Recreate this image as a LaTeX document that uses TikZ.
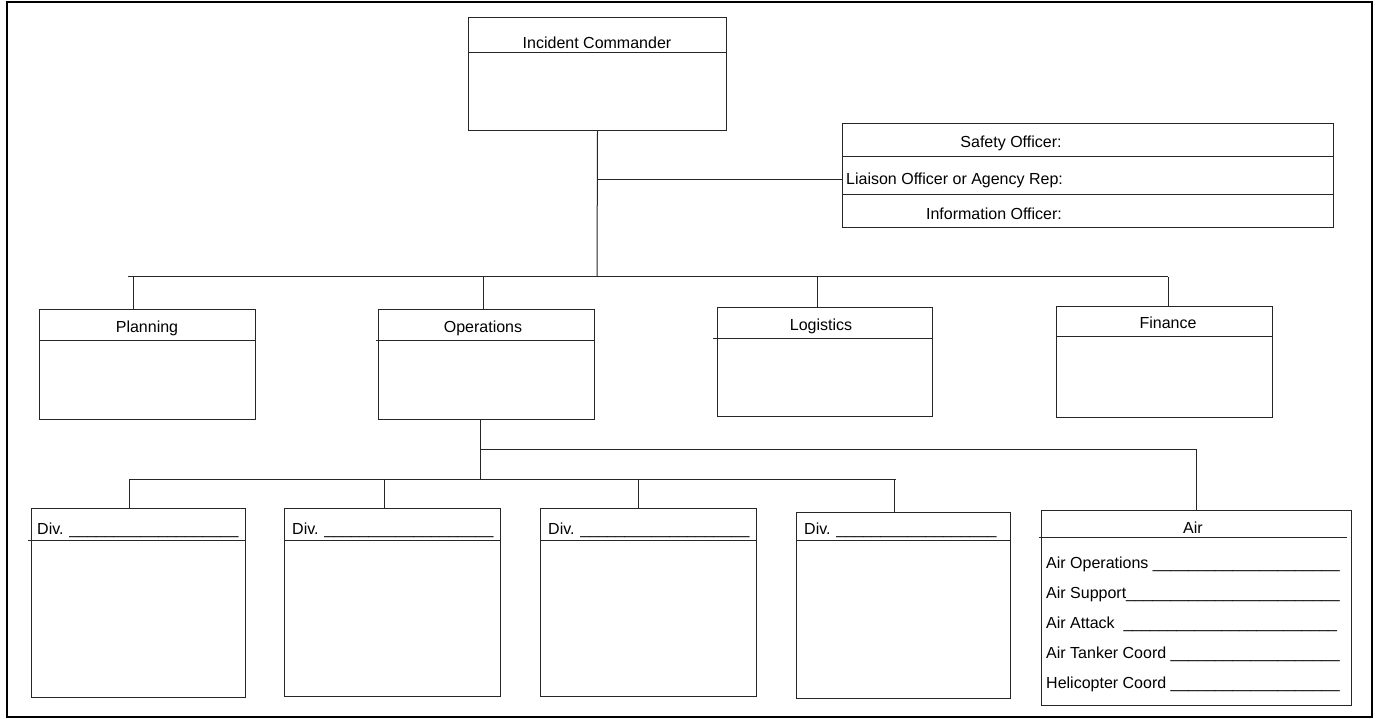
\documentclass[tikz,border=0pt]{standalone}
\usepackage{fontspec}
\setmainfont{Liberation Sans}
\begin{document}
\begin{tikzpicture}[x=1pt,y=-1pt,
  box/.style={draw=black!85, line width=1pt, rectangle, inner sep=0pt, anchor=north west},
  lbl/.style={font=\fontsize{16}{19}\selectfont, inner sep=0pt},
  conn/.style={line width=1pt, draw=black!85}]
\useasboundingbox (0,0) rectangle (1377,719);
\draw[line width=2.5pt] (7,2) rectangle (1372,717);

% Incident Commander
\node[box, minimum width=258pt, minimum height=113pt] (ic) at (468,17) {};
\draw[conn] (468,53) -- (726,53);
\node[lbl, anchor=base] (icl) at (597,49) {Incident Commander};

% Officers
\node[box, minimum width=491pt, minimum height=104pt] (off) at (842,123) {};
\draw[conn] (842,157) -- (1333,157);
\draw[conn] (842,195) -- (1333,195);
\node[lbl, anchor=base] (saf) at (1011,148) {Safety Officer:};
\node[lbl, anchor=base west] (lia) at (846,185) {Liaison Officer or Agency Rep:};
\node[lbl, anchor=base] (inf) at (994,220) {Information Officer:};

% Sections
\node[box, minimum width=216pt, minimum height=110pt] (plan) at (39,309) {};
\draw[conn] (39,341) -- (255,341);
\node[lbl, anchor=base] (planl) at (147,333) {Planning};

\node[box, minimum width=216pt, minimum height=110pt] (ops) at (378,309) {};
\draw[conn] (376,341) -- (594,341);
\node[lbl, anchor=base] (opsl) at (483,333) {Operations};

\node[box, minimum width=215pt, minimum height=109pt] (log) at (717,307) {};
\draw[conn] (713,339) -- (932,339);
\node[lbl, anchor=base] (logl) at (821,331) {Logistics};

\node[box, minimum width=216pt, minimum height=111pt] (fin) at (1056,306) {};
\draw[conn] (1056,337) -- (1272,337);
\node[lbl, anchor=base] (finl) at (1168,329) {Finance};

% Connectors top
\coordinate (jOff) at (597,180);
\coordinate (busC) at (597,277);
\draw[conn] (ic.south) -- (busC);
\draw[conn] (jOff) -- (jOff -| off.west);
\coordinate (busL) at (128,277);
\coordinate (busR) at (1168,277);
\draw[conn] (busL) -- (busR);
\coordinate (dPlan) at (133,277);
\coordinate (dOps) at (483,277);
\coordinate (dLog) at (817,277);
\coordinate (dFin) at (1168,277);
\draw[conn] (dPlan) -- (dPlan |- plan.north);
\draw[conn] (dOps) -- (dOps |- ops.north);
\draw[conn] (dLog) -- (dLog |- log.north);
\draw[conn] (dFin) -- (dFin |- fin.north);

% Divisions
\node[box, minimum width=214pt, minimum height=189pt] (d1) at (31,508) {};
\draw[conn] (28,540) -- (245,540);
\node[lbl, anchor=base west] (d1l) at (37,534) {Div. \_\_\_\_\_\_\_\_\_\_\_\_\_\_\_\_\_\_\_};

\node[box, minimum width=216pt, minimum height=188pt] (d2) at (284,508) {};
\draw[conn] (284,540) -- (500,540);
\node[lbl, anchor=base west] (d2l) at (292,534) {Div. \_\_\_\_\_\_\_\_\_\_\_\_\_\_\_\_\_\_\_};

\node[box, minimum width=216pt, minimum height=188pt] (d3) at (540,508) {};
\draw[conn] (540,540) -- (756,540);
\node[lbl, anchor=base west] (d3l) at (548,534) {Div. \_\_\_\_\_\_\_\_\_\_\_\_\_\_\_\_\_\_\_};

\node[box, minimum width=214pt, minimum height=186pt] (d4) at (796,512) {};
\draw[conn] (796,540) -- (1010,540);
\node[lbl, anchor=base west] (d4l) at (804,534) {Div. \_\_\_\_\_\_\_\_\_\_\_\_\_\_\_\_\_\_};

% Air
\node[box, minimum width=310pt, minimum height=195pt] (air) at (1041,510) {};
\draw[conn] (1039,537) -- (1347,537);
\node[lbl, anchor=base] (airl) at (1193,533) {Air};
\node[lbl, anchor=base west] (a1) at (1046,568) {Air Operations \_\_\_\_\_\_\_\_\_\_\_\_\_\_\_\_\_\_\_\_\_};
\node[lbl, anchor=base west] (a2) at (1046,598) {Air Support\_\_\_\_\_\_\_\_\_\_\_\_\_\_\_\_\_\_\_\_\_\_\_\_};
\node[lbl, anchor=base west] (a3) at (1046,628) {Air Attack \ \_\_\_\_\_\_\_\_\_\_\_\_\_\_\_\_\_\_\_\_\_\_\_\_};
\node[lbl, anchor=base west] (a4) at (1046,658) {Air Tanker Coord \_\_\_\_\_\_\_\_\_\_\_\_\_\_\_\_\_\_\_};
\node[lbl, anchor=base west] (a5) at (1046,688) {Helicopter Coord \_\_\_\_\_\_\_\_\_\_\_\_\_\_\_\_\_\_\_};

% Connectors bottom
\coordinate (oJ1) at (480,449);
\coordinate (oJ2) at (480,479);
\draw[conn] (oJ2 |- ops.south) -- (oJ2);
\draw[conn] (oJ1) -- (oJ1 -| air.north) -- (air.north);
\coordinate (divL) at (129,479);
\coordinate (divR) at (896,479);
\draw[conn] (divL) -- (divR);
\coordinate (dd1) at (129,479);
\coordinate (dd2) at (384,479);
\coordinate (dd3) at (638,479);
\coordinate (dd4) at (894,479);
\draw[conn] (dd1) -- (dd1 |- d1.north);
\draw[conn] (dd2) -- (dd2 |- d2.north);
\draw[conn] (dd3) -- (dd3 |- d3.north);
\draw[conn] (dd4) -- (dd4 |- d4.north);
\end{tikzpicture}
\end{document}
